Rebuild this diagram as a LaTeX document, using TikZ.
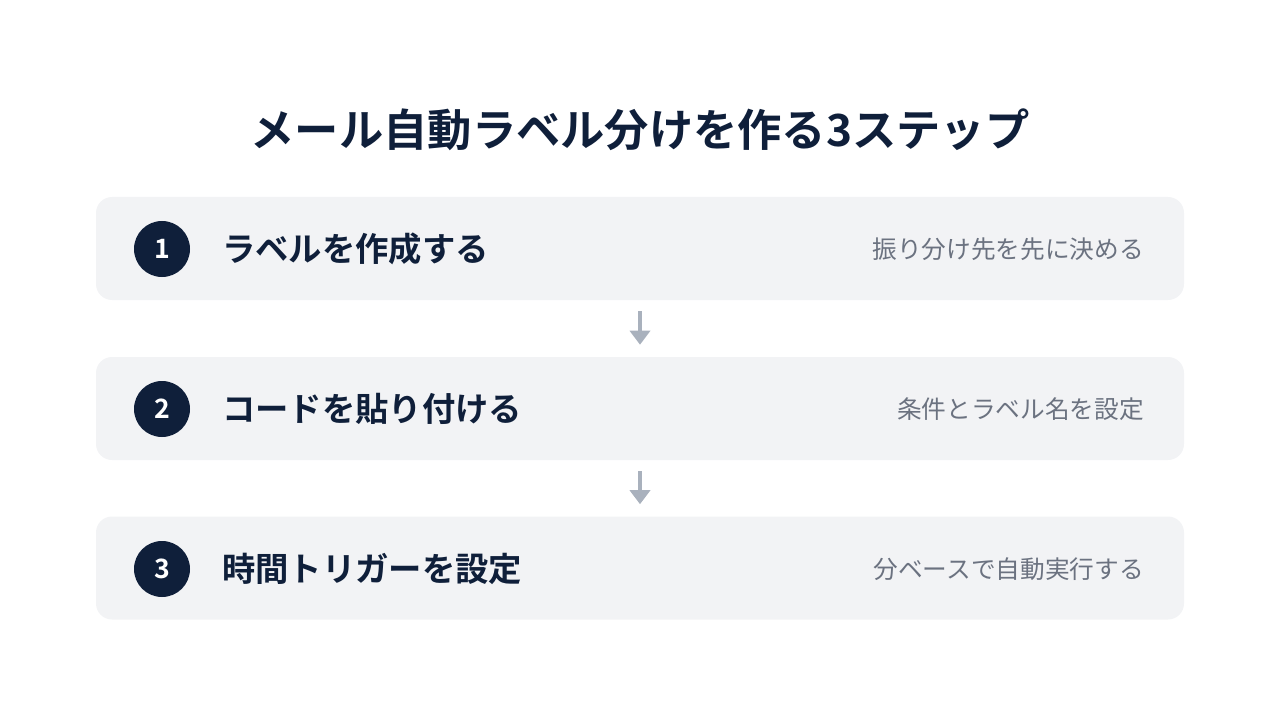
\documentclass[tikz,border=0pt]{standalone}
\usepackage{fontspec}
\setmainfont{Noto Sans CJK JP}
\newfontfamily\jpbold{Noto Sans CJK JP Bold}
\usetikzlibrary{positioning, arrows.meta}

\definecolor{navy}{HTML}{0F1F3A}
\definecolor{boxgray}{HTML}{F2F3F5}
\definecolor{subgray}{HTML}{6B7280}
\definecolor{arrowgray}{HTML}{A9B1BD}

\tikzset{
  stepbox/.style={fill=boxgray, rounded corners=12pt, minimum width=816pt, minimum height=77.25pt, inner sep=0pt},
  numdot/.style={circle, fill=navy, minimum size=42pt, inner sep=0pt, text=white, font=\jpbold\fontsize{20}{20}\selectfont},
  steptitle/.style={anchor=west, text=navy, font=\jpbold\fontsize{25}{25}\selectfont, inner sep=0pt},
  stepnote/.style={anchor=east, text=subgray, font=\fontsize{18.5}{18.5}\selectfont, inner sep=0pt},
  flow/.style={-{Triangle[width=15pt, length=10.5pt]}, line width=3pt, draw=arrowgray, shorten <=8.25pt, shorten >=9pt}
}

\begin{document}
\begin{tikzpicture}[x=0.75pt, y=-0.75pt]
    \useasboundingbox (0,0) rectangle (1280,720);

    \node[text=navy, font=\jpbold\fontsize{33.2}{33.2}\selectfont] (title) at (640,130) {メール自動ラベル分けを作る3ステップ};

    % steps
    \node[stepbox] (s1) at (640,248.5) {};
    \node[stepbox] (s2) at (640,408.5) {};
    \node[stepbox] (s3) at (640,568) {};

    \node[numdot] (n1) at (162,249) {1};
    \node[numdot] (n2) at (162,409) {2};
    \node[numdot] (n3) at (162,569) {3};

    \node[steptitle] (t1) at (222,249) {ラベルを作成する};
    \node[steptitle] (t2) at (222,409) {コードを貼り付ける};
    \node[steptitle] (t3) at (222,569) {時間トリガーを設定};

    \node[stepnote] (d1) at (1144,249) {振り分け先を先に決める};
    \node[stepnote] (d2) at (1144,409) {条件とラベル名を設定};
    \node[stepnote] (d3) at (1144,569) {分ベースで自動実行する};

    \draw[flow] (s1) -- (s2);
    \draw[flow] (s2) -- (s3);
\end{tikzpicture}
\end{document}
